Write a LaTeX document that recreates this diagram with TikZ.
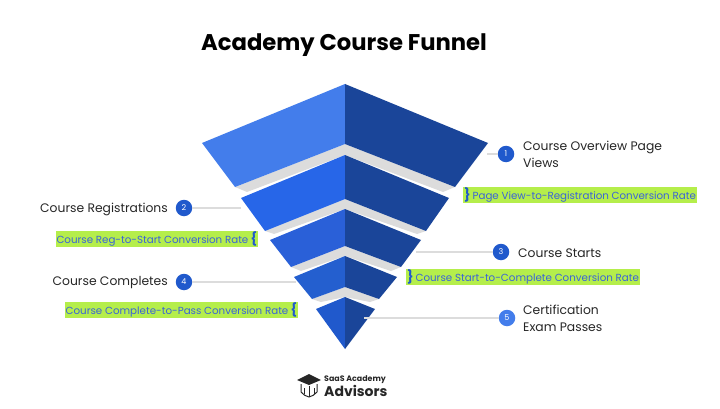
\documentclass[tikz,border=0pt]{standalone}
\usepackage{fontspec}
\setmainfont{Poppins}
\definecolor{leftA}{HTML}{437DEB}
\definecolor{leftB}{HTML}{2766E8}
\definecolor{leftC}{HTML}{2A60D8}
\definecolor{leftD}{HTML}{245FCF}
\definecolor{leftE}{HTML}{2059CC}
\definecolor{rightdark}{HTML}{1A4599}
\definecolor{bandgray}{HTML}{DCDCDC}
\definecolor{marker}{HTML}{B5EE4B}
\definecolor{ratetext}{HTML}{3A63D8}
\newcommand{\ratebrace}[1]{\smash{\textcolor{leftE}{\fontsize{13}{13}\selectfont\bfseries #1}}}
\tikzset{
    badge/.style={circle, fill=#1, text=white, font=\fontsize{8}{9}\selectfont, minimum size=16.5pt, inner sep=0pt},
    stage/.style={font=\fontsize{12.35}{17}\selectfont, text=black!85, align=left, inner sep=0pt},
    rate/.style={fill=marker, text=ratetext, font=\fontsize{10.28}{12}\selectfont, inner ysep=0pt, inner xsep=0.8pt, text height=12pt, text depth=4pt},
    leader/.style={draw=bandgray, line width=1.2pt}
}
\begin{document}
\begin{tikzpicture}[
        x=1pt,
        y=-1pt
    ]
        \useasboundingbox (0,0) rectangle (720,409);

        % Titulo
        \node[font=\fontsize{22.7}{28}\selectfont\bfseries] (title) at (344,45) {Academy Course Funnel};

        % Bandas grises
        \fill[bandgray] (235,187) -- (345,144) -- (455,187) -- (443,192) -- (345,155) -- (247,192) -- cycle;
        \fill[bandgray] (265,231) -- (345,199) -- (426,231) -- (417,234) -- (345,209) -- (274,234) -- cycle;
        \fill[bandgray] (291,267) -- (345,246) -- (401,267) -- (391,271) -- (345,256) -- (301,271) -- cycle;
        \fill[bandgray] (312,299) -- (345,287) -- (379,299) -- (370,302) -- (345,297) -- (321,302) -- cycle;

        % Embudo, lado izquierdo
        \fill[leftA] (345,84) -- (202,143) -- (235,187) -- (345,144) -- cycle;
        \fill[leftB] (345,155) -- (241,198) -- (265,231) -- (345,199) -- cycle;
        \fill[leftC] (345,209) -- (270,240) -- (291,267) -- (345,246) -- cycle;
        \fill[leftD] (345,256) -- (294,277) -- (312,299) -- (345,287) -- cycle;
        \fill[leftE] (345,297) -- (316,309) -- (345,349) -- cycle;

        % Embudo, lado derecho
        \fill[rightdark] (345,84) -- (488,143) -- (455,187) -- (345,144) -- cycle;
        \fill[rightdark] (345,155) -- (449,198) -- (426,231) -- (345,199) -- cycle;
        \fill[rightdark] (345,209) -- (421,240) -- (401,267) -- (345,246) -- cycle;
        \fill[rightdark] (345,256) -- (397,277) -- (379,299) -- (345,287) -- cycle;
        \fill[rightdark] (345,297) -- (375,309) -- (345,349) -- cycle;

        % Numeros
        \node[badge=leftE] (one) at (506,154) {1};
        \node[badge=leftE] (two) at (184,208) {2};
        \node[badge=leftE] (three) at (501,252) {3};
        \node[badge=leftE] (four) at (184,282) {4};
        \node[badge=leftA] (five) at (507,318) {5};

        % Lineas guia
        \coordinate (endone) at (487,154);
        \coordinate (endtwo) at (241,208);
        \coordinate (endthree) at (416,252);
        \coordinate (endfour) at (296,282);
        \coordinate (endfive) at (364,318);
        \draw[leader] (one) -- (endone);
        \draw[leader] (two) -- (endtwo);
        \draw[leader] (three) -- (endthree);
        \draw[leader] (four) -- (endfour);
        \draw[leader] (five) -- (endfive);

        % Etapas
        \node[stage, anchor=west] (overview) at (523,154.5) {Course Overview Page\\Views};
        \node[stage, anchor=east] (registrations) at (168,209) {Course Registrations};
        \node[stage, anchor=west] (starts) at (518,253) {Course Starts};
        \node[stage, anchor=east] (completes) at (168,283) {Course Completes};
        \node[stage, anchor=west] (passes) at (523,318) {Certification\\Exam Passes};

        % Tasas de conversion
        \node[rate, anchor=west] (rateone) at (463,195) {\ratebrace{\}}\hspace{-0.6pt} Page View-to-Registration Conversion Rate};
        \node[rate, anchor=east] (ratetwo) at (258,239) {Course Reg-to-Start Conversion Rate \hspace{-0.6pt}\ratebrace{\{}};
        \node[rate, anchor=west] (ratethree) at (406,277) {\ratebrace{\}}\hspace{-0.6pt} Course Start-to-Complete Conversion Rate};
        \node[rate, anchor=east] (ratefour) at (298,310) {Course Complete-to-Pass Conversion Rate \hspace{-0.6pt}\ratebrace{\{}};

        % Logo
        \fill[black!85] (309,374) -- (321,380) -- (309,385) -- (297,380) -- cycle;
        \draw[black!85, line width=1pt] (301,384) -- (301,392) .. controls (303,395) and (306,396) .. (309,397)
            .. controls (312,396) and (315,395) .. (317,392) -- (317,384);
        \draw[black!85, line width=0.8pt] (309,386) -- (309,397) (304,388) -- (304,394) (314,388) -- (314,394);
        \node[anchor=west, inner sep=0pt, font=\fontsize{7.9}{9}\selectfont\bfseries, text=black!85] (logotop) at (324,380) {SaaS Academy};
        \node[anchor=west, inner sep=0pt, font=\fontsize{14}{15}\selectfont\bfseries, text=black!85] (logobottom) at (324,391) {Advisors};

    \end{tikzpicture}
\end{document}
